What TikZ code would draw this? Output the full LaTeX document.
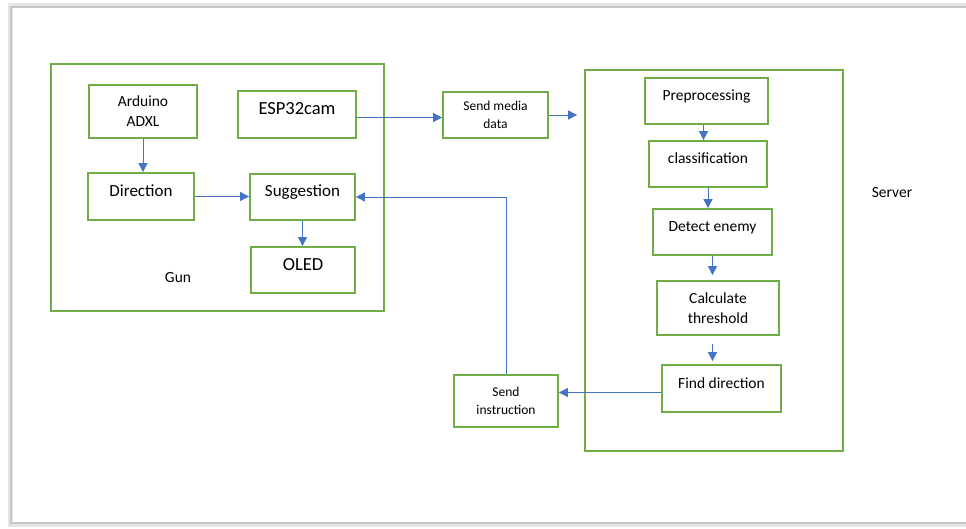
\documentclass[tikz,border=0pt]{standalone}
\usepackage{fontspec}
\setmainfont{Carlito}
\usetikzlibrary{arrows.meta}
\definecolor{boxgreen}{HTML}{70AD47}
\definecolor{arrowblue}{HTML}{4472C4}
\begin{document}
\begin{tikzpicture}[x=1pt,y=-1pt,font=\fontsize{15.5}{20}\selectfont,
 frame/.style={draw=boxgreen,line width=1.8pt,inner sep=0pt},
 blk/.style={frame,text height=10pt,text depth=10pt},
 blk2/.style={frame,align=center},
 arr/.style={draw=arrowblue,line width=0.9pt,-{Triangle[length=9pt,width=9pt]}}]
\useasboundingbox (0,0) rectangle (966,529);
\draw[gray!20,line width=5pt] (990,524) -- (10,524) -- (10,6) -- (990,6);
\draw[gray!45,line width=1.2pt] (990,523) -- (11,523) -- (11,7) -- (990,7);

\node[frame,minimum width=333pt,minimum height=247pt] (gun) at (217.5,187.5) {};
\node[frame,minimum width=258pt,minimum height=381pt] (srv) at (714,260.5) {};
\node (gunlbl) at (178,278) {Gun};
\node (srvlbl) at (892,193) {Server};

\node[blk2,minimum width=108pt,minimum height=53pt] (ard) at (143,111.5) {Arduino\\ADXL};
\node[blk,minimum width=118pt,minimum height=47pt,font=\fontsize{18.5}{20}\selectfont] (esp) at (297,114.5) {ESP32cam};
\node[blk,minimum width=106pt,minimum height=47pt,font=\fontsize{17}{20}\selectfont] (dir) at (141,196.5) {Direction};
\node[blk,minimum width=105pt,minimum height=46pt,font=\fontsize{17}{20}\selectfont] (sug) at (302.5,197) {Suggestion};
\node[blk,minimum width=104pt,minimum height=46pt,font=\fontsize{18.5}{20}\selectfont] (oled) at (303,270) {OLED};

\node[blk2,minimum width=105pt,minimum height=46pt,font=\fontsize{13.5}{18}\selectfont] (media) at (495.5,115) {Send media\\data};
\node[blk2,minimum width=104pt,minimum height=52pt,font=\fontsize{13.5}{18}\selectfont] (sendi) at (506,401) {Send\\instruction};

\node[blk,minimum width=123pt,minimum height=46pt] (pre) at (706.5,101) {Preprocessing};
\node[blk,minimum width=118pt,minimum height=46pt] (cls) at (708,164) {classification};
\node[blk,minimum width=119pt,minimum height=46pt] (det) at (712.5,232) {Detect enemy};
\node[blk2,minimum width=122pt,minimum height=54pt] (calc) at (718,308) {Calculate\\threshold};
\node[blk,minimum width=119pt,minimum height=47pt] (find) at (721.5,388.5) {Find direction};

\draw[arr] (ard.south) -- (ard.south |- dir.north);
\draw[arr] (dir.east) -- (dir.east -| sug.west);
\draw[arr] (sug.south) -- (sug.south |- oled.north);
\draw[arr] ([yshift=-3pt]esp.east) -- ([yshift=-3pt]esp.east -| media.west);
\draw[arr] (media.east) -- ([xshift=-7pt]media.east -| srv.west);
\draw[arr] ([xshift=-3pt]pre.south) -- ([xshift=-3pt]pre.south |- cls.north);
\draw[arr] (cls.south) -- (cls.south |- det.north);
\draw[arr] (det.south) -- ([yshift=5pt]det.south |- calc.north);
\draw[arr] (det.south |- 0,344) -- ([yshift=3pt]det.south |- find.north);
\draw[arr] ([yshift=-4pt]find.west) -- ([yshift=-4pt]find.west -| sendi.east);
\draw[arr] (sendi.north) |- (sug.east);
\end{tikzpicture}
\end{document}
